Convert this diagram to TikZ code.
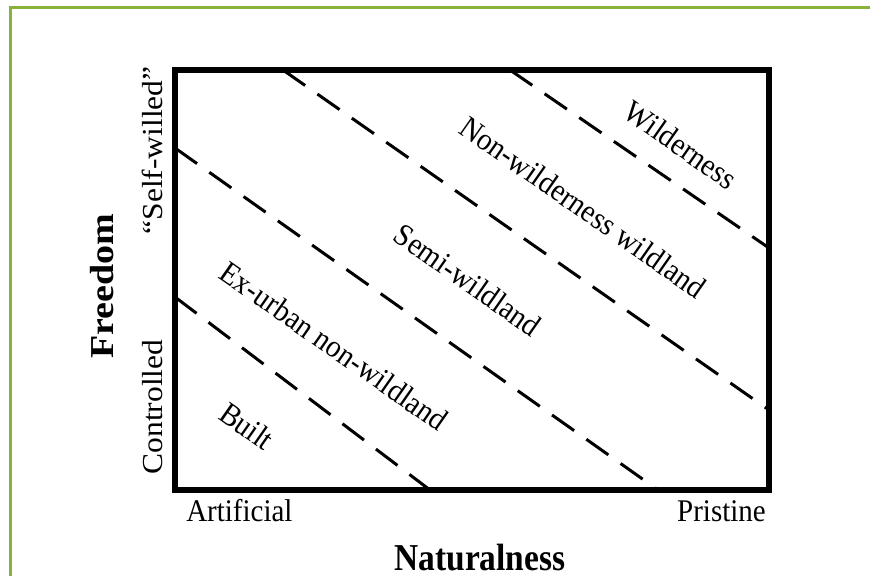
\documentclass[tikz,border=0pt]{standalone}
\usepackage{fontspec}
\setmainfont{Liberation Serif}
\definecolor{framegreen}{RGB}{137,178,60}
\tikzset{
  zone/.style={font=\fontsize{31.5}{34}\selectfont, rotate=-35, xscale=0.92},
  axislbl/.style={font=\fontsize{31.5}{34}\selectfont, xscale=0.92},
  axistitle/.style={font=\fontsize{38}{40}\selectfont\bfseries, xscale=0.88},
  boundary/.style={line width=3pt, dash pattern=on 27pt off 15pt}
}
\begin{document}
\begin{tikzpicture}[x=1pt,y=-1pt]
			\useasboundingbox (0,0) rectangle (870,576);
			% green frame
			\draw[framegreen, line width=3pt] (10,576) -- (10,7) -- (870,7);
			% plot box
			\coordinate (sw) at (175,490);
			\coordinate (ne) at (769,70);
			\draw[line width=6pt] (sw) rectangle (ne);
			% dashed boundaries
			\coordinate (b1s) at (175,297); \coordinate (b1e) at (430,490);
			\coordinate (b2s) at (175,148); \coordinate (b2e) at (658,490);
			\coordinate (b3s) at (283,70);  \coordinate (b3e) at (769,410);
			\coordinate (b4s) at (510,70);  \coordinate (b4e) at (769,248);
			\draw[boundary] (b1s) -- (b1e);
			\draw[boundary] (b2s) -- (b2e);
			\draw[boundary] (b3s) -- (b3e);
			\draw[boundary] (b4s) -- (b4e);
			% zone labels
			\node[zone] (wild) at (681,145) {Wilderness};
			\node[zone] (nonwild) at (583,207) {Non-wilderness wildland};
			\node[zone] (semi) at (468,280) {Semi-wildland};
			\node[zone] (exurban) at (334,346) {Ex-urban non-wildland};
			\node[zone] (built) at (247,426) {Built};
			% axis labels
			\node[axislbl, anchor=base west] (artificial) at (183,521) {Artificial};
			\node[axislbl, anchor=base east] (pristine) at (769,521) {Pristine};
			\node[axistitle, anchor=base] (naturalness) at (480,570) {Naturalness};
			\node[axislbl, rotate=90, anchor=base west] (controlled) at (162,478) {Controlled};
			\node[axislbl, rotate=90, anchor=base east] (selfwilled) at (162,63) {``Self-willed''};
			\node[axistitle, rotate=90, anchor=base] (freedom) at (113,286) {Freedom};
		\end{tikzpicture}
\end{document}
